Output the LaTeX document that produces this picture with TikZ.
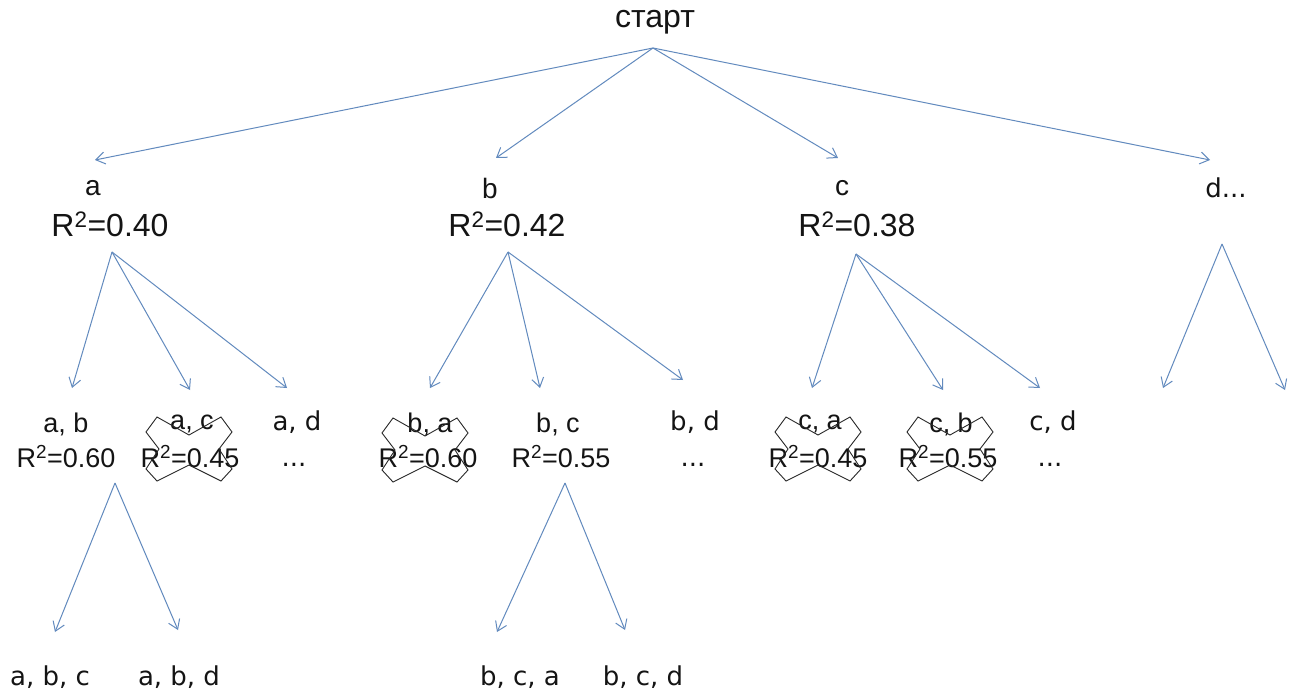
\documentclass[tikz,border=0pt]{standalone}
\usepackage{fontspec}
\setmainfont{Liberation Sans}
\newfontfamily\vfont{DejaVu Sans}
\usetikzlibrary{arrows.meta}
\definecolor{arrowblue}{RGB}{98,138,190}
\definecolor{inkgray}{RGB}{40,40,40}
\definecolor{txt}{RGB}{20,20,20}
% X-shaped strike-out mark around a rejected node
\newcommand\strikemark[1]{%
  \draw[crossline, shift={(#1)}]
    (-32,-32) -- (-43,-17) -- (-30,0) -- (-43,20) -- (-32,32) -- (0,16)
    -- (32,32) -- (43,20) -- (30,0) -- (43,-17) -- (32,-32) -- (0,-14) -- cycle;}
\begin{document}
\begin{tikzpicture}[x=1pt,y=-1pt,
  link/.style={draw=arrowblue, line width=1pt, -{Straight Barb[length=9pt,width=12pt]}},
  crossline/.style={draw=inkgray, line width=0.9pt},
  rootlbl/.style={inner sep=0pt, text=txt, font=\fontsize{32}{34}\selectfont},
  varA/.style={inner sep=0pt, text=txt, font=\fontsize{28}{30}\selectfont},
  rbig/.style={inner sep=0pt, text=txt, font=\fontsize{32}{34}\selectfont},
  varB/.style={inner sep=0pt, text=txt, font=\fontsize{27}{29}\selectfont},
  rsmall/.style={inner sep=0pt, text=txt, font=\fontsize{27}{29}\selectfont},
  wide/.style={inner sep=0pt, text=txt, font=\vfont\fontsize{26}{28}\selectfont}]
\useasboundingbox[fill=white] (0,0) rectangle (1292,692);

% root
\node[rootlbl] (start) at (655,22) {старт};

% first level
\node[varA] (a) at (93,188) {a};
\node[rbig] (aR) at (110,224) {R\textsuperscript{2}=0.40};
\node[varA] (b) at (490,188) {b};
\node[rbig] (bR) at (507,224) {R\textsuperscript{2}=0.42};
\node[varA] (c) at (842,188) {c};
\node[rbig] (cR) at (857,224) {R\textsuperscript{2}=0.38};
\node[wide] (d) at (1226,188) {d...};

% second level
\node[varB] (ab) at (66,424) {a, b};
\node[rsmall] (abR) at (66,457) {R\textsuperscript{2}=0.60};
\node[varB] (ac) at (192,424) {a, c};
\node[rsmall] (acR) at (190,457) {R\textsuperscript{2}=0.45};
\node[wide] (ad) at (297,422) {a, d};
\node[wide] (adx) at (294,465) {...};

\node[varB] (ba) at (430,424) {b, a};
\node[rsmall] (baR) at (428,457) {R\textsuperscript{2}=0.60};
\node[varB] (bc) at (558,424) {b, c};
\node[rsmall] (bcR) at (561,457) {R\textsuperscript{2}=0.55};
\node[wide] (bd) at (695,422) {b, d};
\node[wide] (bdx) at (693,465) {...};

\node[varB] (ca) at (820,424) {c, a};
\node[rsmall] (caR) at (818,457) {R\textsuperscript{2}=0.45};
\node[varB] (cb) at (951,424) {c, b};
\node[rsmall] (cbR) at (948,457) {R\textsuperscript{2}=0.55};
\node[wide] (cd) at (1053,422) {c, d};
\node[wide] (cdx) at (1050,465) {...};

% third level
\node[wide] (abc) at (50,677) {a, b, c};
\node[wide] (abd) at (179,677) {a, b, d};
\node[wide] (bca) at (520,677) {b, c, a};
\node[wide] (bcd) at (643,677) {b, c, d};

% fork points and arrow tips
\coordinate (start-out) at (653,48);
\coordinate (a-in) at (95,160);
\coordinate (b-in) at (496,158);
\coordinate (c-in) at (838,158);
\coordinate (d-in) at (1210,160);

\coordinate (a-out) at (112,252);
\coordinate (ab-in) at (72,388);
\coordinate (ac-in) at (190,390);
\coordinate (ad-in) at (287,388);

\coordinate (b-out) at (508,252);
\coordinate (ba-in) at (430,388);
\coordinate (bc-in) at (540,388);
\coordinate (bd-in) at (683,380);

\coordinate (c-out) at (856,254);
\coordinate (ca-in) at (812,388);
\coordinate (cb-in) at (943,390);
\coordinate (cd-in) at (1040,388);

\coordinate (d-out) at (1222,244);
\coordinate (d1-in) at (1163,388);
\coordinate (d2-in) at (1285,390);

\coordinate (ab-out) at (115,483);
\coordinate (abc-in) at (55,632);
\coordinate (abd-in) at (178,630);

\coordinate (bc-out) at (565,483);
\coordinate (bca-in) at (497,632);
\coordinate (bcd-in) at (625,630);

% connectors
\foreach \t in {a,b,c,d} \draw[link] (start-out) -- (\t-in);
\foreach \t in {ab,ac,ad} \draw[link] (a-out) -- (\t-in);
\foreach \t in {ba,bc,bd} \draw[link] (b-out) -- (\t-in);
\foreach \t in {ca,cb,cd} \draw[link] (c-out) -- (\t-in);
\foreach \t in {d1,d2} \draw[link] (d-out) -- (\t-in);
\foreach \t in {abc,abd} \draw[link] (ab-out) -- (\t-in);
\foreach \t in {bca,bcd} \draw[link] (bc-out) -- (\t-in);

% rejected combinations
\strikemark{189,449}
\strikemark{425,450}
\strikemark{818,449}
\strikemark{950,449}
\end{tikzpicture}
\end{document}
